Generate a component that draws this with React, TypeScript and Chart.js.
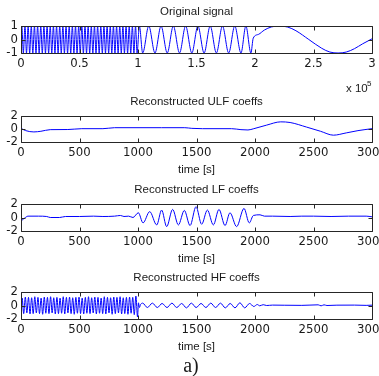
import React, { useEffect, useRef } from "react";
import { Chart, registerables } from "chart.js";

Chart.register(...registerables);

// ---------- data (time, value) ----------
// Original signal, x in units of 1e5 samples
const originalSignal: [number, number][] = [
  [0, 0],
  [0.007, 1], [0.020, -1], [0.034, 1], [0.047, -1], [0.061, 1], [0.074, -1], [0.088, 1], [0.101, -1],
  [0.115, 1], [0.128, -1], [0.142, 1], [0.155, -1], [0.169, 1], [0.182, -1], [0.196, 1], [0.209, -1],
  [0.223, 1], [0.236, -1], [0.250, 1], [0.263, -1], [0.277, 1], [0.290, -1], [0.304, 1], [0.317, -1],
  [0.331, 1], [0.344, -1], [0.358, 1], [0.371, -1], [0.385, 1], [0.398, -1], [0.412, 1], [0.425, -1],
  [0.439, 1], [0.452, -1], [0.466, 1], [0.479, -1], [0.493, 1], [0.506, -1], [0.520, 1], [0.533, -1],
  [0.547, 1], [0.560, -1], [0.574, 1], [0.587, -1], [0.601, 1], [0.614, -1], [0.628, 1], [0.641, -1],
  [0.655, 1], [0.668, -1], [0.682, 1], [0.695, -1], [0.709, 1], [0.722, -1], [0.736, 1], [0.749, -1],
  [0.763, 1], [0.776, -1], [0.790, 1], [0.803, -1], [0.817, 1], [0.830, -1], [0.844, 1], [0.857, -1],
  [0.871, 1], [0.884, -1], [0.898, 1], [0.911, -1], [0.925, 1], [0.938, -1], [0.952, 1], [0.965, -1],
  [0.979, 1], [0.992, -1],
  [1.012, 1], [1.040, -1], [1.092, 1], [1.145, -1], [1.197, 1], [1.250, -1], [1.302, 1], [1.355, -1],
  [1.407, 1], [1.460, -1], [1.512, 1], [1.565, -1], [1.617, 1], [1.670, -1], [1.722, 1], [1.775, -1],
  [1.827, 1], [1.880, -1], [1.922, 1], [1.965, -1],
  [1.985, 0.1], [2.03, 0.38], [2.08, 0.7], [2.14, 0.93], [2.21, 1.0], [2.28, 0.92], [2.35, 0.65],
  [2.46, 0.0], [2.57, -0.65], [2.64, -0.93], [2.71, -1.0], [2.78, -0.93], [2.85, -0.68], [2.92, -0.32],
  [3.0, 0.05],
];

// Reconstructed ULF coefficients, x in seconds
const ulfCoeffs: [number, number][] = [
  [0, 0.1], [40, -0.25], [110, -0.45], [170, -0.35], [250, -0.1], [400, -0.08], [520, 0.05],
  [700, 0.05], [800, 0.2], [1000, 0.2], [1200, 0.2], [1400, 0.2], [1460, 0.1], [1550, 0.05],
  [1800, 0.05], [1880, -0.1], [1940, -0.15], [1990, 0.05], [2100, 0.6], [2220, 1.1], [2300, 1.0],
  [2440, 0.3], [2560, -0.35], [2670, -0.95], [2780, -0.6], [2880, -0.25], [3000, 0.05],
];

// Reconstructed LF coefficients
const lfCoeffs: [number, number][] = [
  [0, -0.1], [12, -0.35], [30, -0.1], [60, 0.2], [150, 0.2], [220, 0.15], [250, 0.0], [330, 0.0],
  [380, 0.15], [500, 0.15], [620, 0.2], [700, 0.15], [800, 0.2], [850, 0.3], [880, 0.15], [920, 0.2],
  [957, 0.0], [1003, 0.7], [1043, -0.8], [1100, 0.87], [1160, -1.1], [1202, 1.1], [1245, -1.35],
  [1296, 1.2], [1345, -1.1], [1396, 1.05], [1445, -1.2], [1496, 1.6], [1544, -1.0], [1593, 1.1],
  [1644, -1.1], [1692, 1.2], [1744, -1.2], [1786, 0.7], [1843, -1.35], [1906, 1.35], [1951, -0.8],
  [1986, 0.3], [2043, 0.4], [2080, 0.2], [2150, 0.2], [2300, 0.15], [2400, 0.2], [2500, 0.2],
  [2650, 0.15], [2800, 0.2], [2950, 0.2], [3000, 0.1],
];

// Reconstructed HF coefficients
const hfCoeffs: [number, number][] = [
  [0, 0.4], [3, -1.1],
  [10, 1.1], [23, -1.2], [37, 1.25], [50, -1.1], [64, 1.2], [77, -1.25], [91, 1.15], [104, -1.2],
  [118, 1.3], [131, -1.1], [145, 1.2], [158, -1.2], [172, 1.1], [185, -1.3], [199, 1.25], [212, -1.15],
  [226, 1.2], [239, -1.2], [253, 1.3], [266, -1.1], [280, 1.15], [293, -1.25], [307, 1.2], [320, -1.2],
  [334, 1.1], [347, -1.15], [361, 1.3], [374, -1.25], [388, 1.2], [401, -1.1], [415, 1.25], [428, -1.2],
  [442, 1.15], [455, -1.3], [469, 1.2], [482, -1.15], [496, 1.25], [509, -1.2], [523, 1.1], [536, -1.25],
  [550, 1.2], [563, -1.15], [577, 1.3], [590, -1.2], [604, 1.15], [617, -1.1], [631, 1.25], [644, -1.25],
  [658, 1.2], [671, -1.15], [685, 1.1], [698, -1.2], [712, 1.3], [725, -1.25], [739, 1.2], [752, -1.1],
  [766, 1.15], [779, -1.3], [793, 1.25], [806, -1.2], [820, 1.2], [833, -1.1], [847, 1.3], [860, -1.25],
  [874, 1.15], [887, -1.2], [901, 1.2], [914, -1.3], [928, 1.25], [941, -1.15], [955, 1.2], [968, -1.35],
  [982, 1.4],
  [996, -1.7], [1004, 0.4], [1012, -0.3], [1022, 0.15], [1040, 0.35], [1080, -0.3], [1123, 0.35],
  [1165, -0.3], [1206, 0.3], [1248, -0.3], [1290, 0.35], [1331, -0.3], [1373, 0.3], [1414, -0.35],
  [1456, 0.35], [1497, -0.3], [1539, 0.3], [1580, -0.3], [1622, 0.35], [1663, -0.3], [1705, 0.35],
  [1746, -0.35], [1788, 0.3], [1829, -0.35], [1871, 0.4], [1912, -0.35], [1954, 0.3], [1990, -0.15],
  [2020, 0.15], [2040, -0.05], [2070, 0.12], [2100, 0.0], [2150, 0.06], [2250, 0.04], [2400, 0.02],
  [2540, 0.1], [2565, -0.05], [2590, 0.1], [2615, 0.0], [2700, 0.05], [2850, 0.06], [2950, 0.02],
  [3000, 0.05],
];

// ---------- axis ticks & labels ----------
const origXTicks = [0, 0.5, 1, 1.5, 2, 2.5, 3];
const timeXTicks = [0, 500, 1000, 1500, 2000, 2500, 3000];
const origYTicks = [-1, 0, 1];
const coeffYTicks = [-2, 0, 2];

const titles = [
  "Original signal",
  "Reconstructed ULF coeffs",
  "Reconstructed LF coeffs",
  "Reconstructed HF coeffs",
];
const timeLabel = "time [s]";
const exponentBase = "x 10";
const exponentPower = "5";
const figureCaption = "a)";

// ---------- layout ----------
const CANVAS_W = 400;
const PAD_TOP = 24;
const Y_AXIS_W = 21;
const PAD_RIGHT = CANVAS_W - 372;

type Spec = {
  data: [number, number][];
  title: string;
  xTicks: number[];
  yTicks: number[];
  xMax: number;
  yMin: number;
  yMax: number;
  boxTop: number;
  boxBottom: number;
  bottomSpace: number;
  xlabel?: string;
  exponent?: boolean;
  caption?: boolean;
};

const specs: Spec[] = [
  { data: originalSignal, title: titles[0], xTicks: origXTicks, yTicks: origYTicks, xMax: 3, yMin: -1, yMax: 1,
    boxTop: 26, boxBottom: 53, bottomSpace: 42, exponent: true },
  { data: ulfCoeffs, title: titles[1], xTicks: timeXTicks, yTicks: coeffYTicks, xMax: 3000, yMin: -2, yMax: 2,
    boxTop: 116, boxBottom: 142, bottomSpace: 38, xlabel: timeLabel },
  { data: lfCoeffs, title: titles[2], xTicks: timeXTicks, yTicks: coeffYTicks, xMax: 3000, yMin: -2, yMax: 2,
    boxTop: 204, boxBottom: 231, bottomSpace: 38, xlabel: timeLabel },
  { data: hfCoeffs, title: titles[3], xTicks: timeXTicks, yTicks: coeffYTicks, xMax: 3000, yMin: -2, yMax: 2,
    boxTop: 292, boxBottom: 319, bottomSpace: 57, xlabel: timeLabel, caption: true },
];

const SANS = '"Liberation Sans", Arial, sans-serif';
const NARROW = '"Liberation Sans Narrow", "DejaVu Sans Condensed", "Liberation Sans", sans-serif';
const INK = "#1a1a1a";

function decorPlugin(spec: Spec) {
  return {
    id: "matlabDecor",
    afterDraw(chart: any) {
      const { ctx, chartArea: a, scales } = chart;
      const xs = scales.x;
      const ys = scales.y;
      const L = Math.round(a.left) + 0.5;
      const R = Math.round(a.right) + 0.5;
      const T = Math.round(a.top) + 0.5;
      const B = Math.round(a.bottom) + 0.5;
      ctx.save();
      ctx.strokeStyle = "#262626";
      ctx.lineWidth = 1;
      ctx.beginPath();
      ctx.rect(L, T, R - L, B - T);
      const tl = 4;
      xs.ticks.forEach((t: any) => {
        const px = Math.round(xs.getPixelForValue(t.value)) + 0.5;
        ctx.moveTo(px, B);
        ctx.lineTo(px, B - tl);
        ctx.moveTo(px, T);
        ctx.lineTo(px, T + tl);
      });
      ys.ticks.forEach((t: any) => {
        const py = Math.round(ys.getPixelForValue(t.value)) + 0.5;
        ctx.moveTo(L, py);
        ctx.lineTo(L + tl, py);
        ctx.moveTo(R, py);
        ctx.lineTo(R - tl, py);
      });
      ctx.stroke();

      const cx = (a.left + a.right) / 2;
      ctx.fillStyle = INK;
      ctx.textAlign = "center";
      ctx.textBaseline = "middle";
      ctx.font = `11.5px ${SANS}`;
      ctx.fillText(spec.title, cx, a.top - 14);
      if (spec.xlabel) ctx.fillText(spec.xlabel, cx, a.bottom + 28);
      if (spec.exponent) {
        ctx.textAlign = "left";
        ctx.textBaseline = "alphabetic";
        ctx.font = `11.5px ${SANS}`;
        ctx.fillText(exponentBase, 346, a.bottom + 39);
        ctx.font = `8px ${SANS}`;
        ctx.fillText(exponentPower, 367, a.bottom + 33);
      }
      if (spec.caption) {
        ctx.textAlign = "center";
        ctx.textBaseline = "alphabetic";
        ctx.font = `20px "Liberation Serif", "Times New Roman", serif`;
        ctx.fillText(figureCaption, 191, a.bottom + 53);
      }
      ctx.restore();
    },
  };
}

function Panel({ spec }: { spec: Spec }) {
  const ref = useRef<HTMLCanvasElement>(null);
  const h = PAD_TOP + (spec.boxBottom - spec.boxTop) + spec.bottomSpace;
  useEffect(() => {
    if (!ref.current) return;
    const chart = new Chart(ref.current, {
      type: "line",
      data: {
        datasets: [
          {
            data: spec.data.map(([x, y]) => ({ x, y })),
            borderColor: "rgb(0,0,255)",
            borderWidth: 1,
            pointRadius: 0,
            cubicInterpolationMode: "monotone",
            fill: false,
          },
        ],
      },
      options: {
        animation: false,
        responsive: false,
        maintainAspectRatio: false,
        devicePixelRatio: 1,
        layout: { padding: { top: PAD_TOP, left: 0, right: PAD_RIGHT, bottom: 0 } },
        plugins: { legend: { display: false }, tooltip: { enabled: false }, title: { display: false } },
        scales: {
          x: {
            type: "linear",
            min: 0,
            max: spec.xMax,
            grid: { display: false, drawTicks: false },
            border: { display: false },
            afterBuildTicks: (s: any) => {
              s.ticks = spec.xTicks.map((v) => ({ value: v }));
            },
            afterFit: (s: any) => {
              s.height = spec.bottomSpace;
            },
            ticks: {
              autoSkip: false,
              maxRotation: 0,
              padding: 3,
              color: INK,
              font: { family: NARROW, size: 13 },
              callback: (v: any) => String(v),
            },
          },
          y: {
            type: "linear",
            min: spec.yMin,
            max: spec.yMax,
            grid: { display: false, drawTicks: false },
            border: { display: false },
            afterBuildTicks: (s: any) => {
              s.ticks = spec.yTicks.map((v) => ({ value: v }));
            },
            afterFit: (s: any) => {
              s.width = Y_AXIS_W;
            },
            ticks: {
              autoSkip: false,
              padding: 3,
              color: INK,
              font: { family: NARROW, size: 13 },
              callback: (v: any) => String(v),
            },
          },
        },
      },
      plugins: [decorPlugin(spec)],
    } as any);
    return () => chart.destroy();
  }, []);
  return (
    <canvas
      ref={ref}
      width={CANVAS_W}
      height={h}
      style={{
        position: "absolute",
        left: 0,
        top: spec.boxTop - PAD_TOP,
        width: CANVAS_W,
        height: h,
        display: "block",
      }}
    />
  );
}

export default function App() {
  return (
    <div
      style={{
        position: "fixed",
        left: 0,
        top: 0,
        width: 379,
        height: 376,
        overflow: "hidden",
        background: "#ffffff",
      }}
    >
      {specs.map((s, i) => (
        <Panel key={i} spec={s} />
      ))}
    </div>
  );
}
